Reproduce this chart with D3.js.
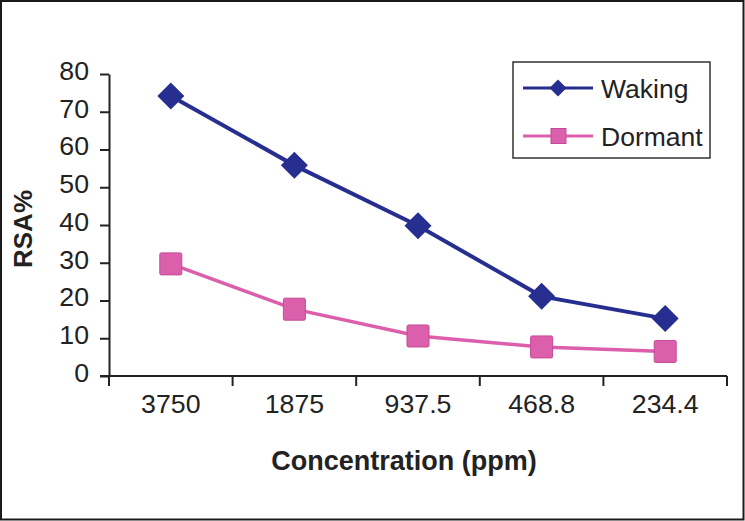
<!DOCTYPE html>
<html>
<head>
<meta charset="utf-8">
<script src="https://cdn.jsdelivr.net/npm/d3@7"></script>
<style>
  html, body { margin: 0; padding: 0; background: #fff; }
  svg { display: block; }
  text { font-family: "Liberation Sans", Arial, sans-serif; fill: #222; }
</style>
</head>
<body>
<svg id="chart" width="745" height="521"></svg>
<script>
const categories = ["3750", "1875", "937.5", "468.8", "234.4"];
const wakingValues = [74.2, 55.8, 39.8, 21.1, 15.2];
const dormantValues = [29.7, 17.7, 10.6, 7.7, 6.5];
const yTicks = [0, 10, 20, 30, 40, 50, 60, 70, 80];
const seriesNames = ["Waking", "Dormant"];

const svg = d3.select("#chart");
const W = 745, H = 521;

// outer frame
svg.append("rect").attr("x", 1).attr("y", 1).attr("width", W - 2.5).attr("height", H - 2.5)
  .attr("fill", "#fff").attr("stroke", "#1a1a1a").attr("stroke-width", 2);

const plot = { left: 109, right: 727, top: 74, bottom: 376 };

const x = d3.scaleBand().domain(categories).range([plot.left, plot.right]).padding(0);
const y = d3.scaleLinear().domain([0, 80]).range([plot.bottom, plot.top]);

const axisColor = "#222";
const tickFont = 26.7;

// Y axis
const yAxis = svg.append("g").attr("transform", `translate(${plot.left},0)`)
  .call(d3.axisLeft(y).tickValues(yTicks).tickSizeInner(9).tickSizeOuter(0).tickPadding(11));
yAxis.select(".domain").attr("stroke", axisColor).attr("stroke-width", 2);
yAxis.selectAll(".tick line").attr("stroke", axisColor).attr("stroke-width", 2);
yAxis.selectAll(".tick text").attr("font-size", tickFont).attr("dy", "0.2em")
  .style("font-family", "'Liberation Sans', Arial, sans-serif").attr("fill", "#222");

// X axis (labels only)
const xAxis = svg.append("g").attr("transform", `translate(0,${plot.bottom})`)
  .call(d3.axisBottom(x).tickSize(0).tickPadding(18));
xAxis.select(".domain").remove();
xAxis.selectAll(".tick text").attr("font-size", tickFont)
  .style("font-family", "'Liberation Sans', Arial, sans-serif").attr("fill", "#222");

// X axis line and boundary ticks
svg.append("line").attr("x1", plot.left - 9).attr("x2", plot.right)
  .attr("y1", plot.bottom).attr("y2", plot.bottom)
  .attr("stroke", axisColor).attr("stroke-width", 2);
const boundaries = categories.map(c => x(c)).concat([x(categories[categories.length - 1]) + x.bandwidth()]);
svg.append("g").selectAll("line").data(boundaries).join("line")
  .attr("x1", d => d).attr("x2", d => d)
  .attr("y1", plot.bottom).attr("y2", plot.bottom + 10)
  .attr("stroke", axisColor).attr("stroke-width", 2);

// Axis titles
svg.append("text").attr("x", 404).attr("y", 470).attr("text-anchor", "middle")
  .attr("font-size", 27).attr("font-weight", "bold").text("Concentration (ppm)");
svg.append("text").attr("transform", "translate(32,229) rotate(-90)").attr("text-anchor", "middle")
  .attr("font-size", 26).attr("font-weight", "bold").text("RSA%");

const cx = c => x(c) + x.bandwidth() / 2;
const line = d3.line().x(d => cx(d.c)).y(d => y(d.v));

const wakingColor = "#262f8f";
const dormantColor = "#dc5fac";
const dormantStroke = "#c44a96";

const wakingData = categories.map((c, i) => ({ c, v: wakingValues[i] }));
const dormantData = categories.map((c, i) => ({ c, v: dormantValues[i] }));

// Dormant
svg.append("path").datum(dormantData).attr("d", line)
  .attr("fill", "none").attr("stroke", dormantColor).attr("stroke-width", 3.5);
svg.append("g").selectAll("rect").data(dormantData).join("rect")
  .attr("x", d => cx(d.c) - 11).attr("y", d => y(d.v) - 11)
  .attr("width", 22).attr("height", 22).attr("rx", 1.5)
  .attr("fill", dormantColor).attr("stroke", dormantStroke).attr("stroke-width", 1);

// Waking
svg.append("path").datum(wakingData).attr("d", line)
  .attr("fill", "none").attr("stroke", wakingColor).attr("stroke-width", 4);
const diamond = r => `M0,${-r}L${r},0L0,${r}L${-r},0Z`;
svg.append("g").selectAll("path").data(wakingData).join("path")
  .attr("transform", d => `translate(${cx(d.c)},${y(d.v)})`)
  .attr("d", diamond(13.5)).attr("fill", wakingColor);

// Legend
const lg = svg.append("g");
lg.append("rect").attr("x", 513).attr("y", 62).attr("width", 197).attr("height", 96)
  .attr("fill", "#fff").attr("stroke", "#333").attr("stroke-width", 1.5);
const legendRows = [
  { name: seriesNames[0], color: wakingColor, y: 88, type: "diamond" },
  { name: seriesNames[1], color: dormantColor, y: 136, type: "square" }
];
legendRows.forEach(r => {
  lg.append("line").attr("x1", 523).attr("x2", 593).attr("y1", r.y).attr("y2", r.y)
    .attr("stroke", r.color).attr("stroke-width", 3);
  if (r.type === "diamond") {
    lg.append("path").attr("transform", `translate(558,${r.y})`).attr("d", diamond(8.5)).attr("fill", r.color);
  } else {
    lg.append("rect").attr("x", 551).attr("y", r.y - 7.5).attr("width", 15).attr("height", 15)
      .attr("fill", r.color).attr("stroke", dormantStroke).attr("stroke-width", 1);
  }
  lg.append("text").attr("x", 601).attr("y", r.y + 9.5).attr("font-size", 26.5).text(r.name);
});
</script>
</body>
</html>
